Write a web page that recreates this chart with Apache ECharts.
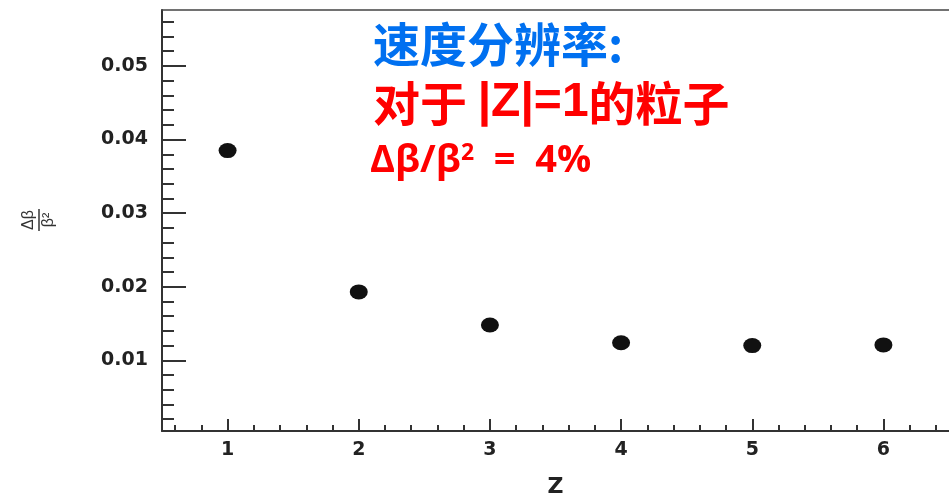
<!DOCTYPE html>
<html>
<head>
<meta charset="utf-8">
<script src="https://cdn.jsdelivr.net/npm/echarts@6/dist/echarts.min.js"></script>
<style>
html,body{margin:0;padding:0;background:#fff;}
#chart{width:949px;height:493px;}
</style>
</head>
<body>
<div id="chart"></div>
<script>
// ---- data ----
var zValues = [1, 2, 3, 4, 5, 6];
var resolution = [0.0385, 0.0193, 0.0148, 0.0124, 0.0120, 0.0121];
var xMajorTicks = [1, 2, 3, 4, 5, 6];
var xMinorTicks = [0.6, 0.8, 1.2, 1.4, 1.6, 1.8, 2.2, 2.4, 2.6, 2.8, 3.2, 3.4, 3.6, 3.8, 4.2, 4.4, 4.6, 4.8, 5.2, 5.4, 5.6, 5.8, 6.2, 6.4];
var yMajorTicks = [0.01, 0.02, 0.03, 0.04, 0.05];
var yMinorTicks = [0.002, 0.004, 0.006, 0.008, 0.012, 0.014, 0.016, 0.018, 0.022, 0.024, 0.026, 0.028, 0.032, 0.034, 0.036, 0.038, 0.042, 0.044, 0.046, 0.048, 0.052, 0.054, 0.056];
var xRange = [0.5, 6.5];
var yRange = [0.0004, 0.0576];
var titleLine1 = '速度分辨率:';
var titleLine2a = '对于 ';
var titleLine2b = '|Z|=1';
var titleLine2c = '的粒子';
var titleLine3a = 'Δβ/β';
var titleLine3sup = '2';
var titleLine3b = '  =  4%';
var xName = 'Z';

var axisColor = '#333';
var labelFont = {fontFamily: 'DejaVu Sans', fontWeight: 'bold', fontSize: 19, color: '#222'};

var chart = echarts.init(document.getElementById('chart'), null, {renderer: 'canvas'});

var points = zValues.map(function (z, i) { return [z, resolution[i]]; });

var option = {
  backgroundColor: '#fff',
  animation: false,
  grid: {left: 162, right: 0, top: 10, bottom: 62, containLabel: false, outerBoundsMode: 'none'},
  xAxis: [
    {
      type: 'value', min: xRange[0], max: xRange[1], position: 'bottom',
      axisLine: {show: true, lineStyle: {color: axisColor, width: 2}},
      axisTick: {show: true, inside: true, length: 12, customValues: xMajorTicks, lineStyle: {color: axisColor, width: 2}},
      axisLabel: Object.assign({show: true, margin: 10, customValues: xMajorTicks}, labelFont),
      splitLine: {show: false},
      name: xName, nameLocation: 'middle', nameGap: 45,
      nameTextStyle: {fontFamily: 'DejaVu Sans', fontWeight: 'bold', fontSize: 22, color: '#222'}
    },
    {
      type: 'value', min: xRange[0], max: xRange[1], position: 'bottom',
      axisLine: {show: false},
      axisTick: {show: true, inside: true, length: 6, customValues: xMinorTicks, lineStyle: {color: axisColor, width: 2}},
      axisLabel: {show: false},
      splitLine: {show: false}
    },
    {
      type: 'value', min: xRange[0], max: xRange[1], position: 'top',
      axisLine: {show: true, lineStyle: {color: '#444', width: 1.5}},
      axisTick: {show: false}, axisLabel: {show: false}, splitLine: {show: false}
    }
  ],
  yAxis: [
    {
      type: 'value', min: yRange[0], max: yRange[1], position: 'left',
      axisLine: {show: true, lineStyle: {color: axisColor, width: 2}},
      axisTick: {show: true, inside: true, length: 24, customValues: yMajorTicks, lineStyle: {color: axisColor, width: 2}},
      axisLabel: Object.assign({show: true, margin: 14, customValues: yMajorTicks,
        formatter: function (v) { return v.toFixed(2); }}, labelFont),
      splitLine: {show: false}
    },
    {
      type: 'value', min: yRange[0], max: yRange[1], position: 'left',
      axisLine: {show: false},
      axisTick: {show: true, inside: true, length: 12, customValues: yMinorTicks, lineStyle: {color: axisColor, width: 2}},
      axisLabel: {show: false},
      splitLine: {show: false}
    }
  ],
  series: [{
    type: 'scatter',
    xAxisIndex: 0, yAxisIndex: 0,
    data: points,
    symbol: 'circle',
    symbolSize: [18, 15],
    itemStyle: {color: '#111', opacity: 1}
  }],
  graphic: [
    {
      type: 'text', left: 373, top: 21,
      style: {text: titleLine1, fill: '#0070F0', font: 'bold 47px "Noto Sans CJK SC"'}
    },
    {
      type: 'text', left: 373, top: 79,
      style: {
        text: '{c|' + titleLine2a + '}{l|' + titleLine2b + '}{c|' + titleLine2c + '}',
        rich: {
          c: {fill: '#FF0000', fontFamily: 'Noto Sans CJK SC', fontWeight: 'bold', fontSize: 47},
          l: {fill: '#FF0000', fontFamily: 'Liberation Sans', fontWeight: 'bold', fontSize: 48}
        }
      }
    },
    {
      type: 'text', left: 370, top: 142,
      style: {
        text: '{m|' + titleLine3a + '}{s|' + titleLine3sup + '}{m|' + titleLine3b + '}',
        rich: {
          m: {fill: '#FF0000', fontFamily: 'Open Sans', fontWeight: 'bold', fontSize: 38, verticalAlign: 'bottom'},
          s: {fill: '#FF0000', fontFamily: 'Open Sans', fontWeight: 'bold', fontSize: 23, verticalAlign: 'top'}
        }
      }
    },
    {
      type: 'group', x: 39, y: 220, rotation: Math.PI / 2,
      children: [
        {type: 'text', x: 0, y: -2, style: {text: 'Δβ', fill: '#333', font: '16px "Liberation Sans"', align: 'center', verticalAlign: 'bottom'}},
        {type: 'line', shape: {x1: -11, y1: 0, x2: 11, y2: 0}, style: {stroke: '#333', lineWidth: 1.5}},
        {type: 'text', x: 0, y: 2, style: {text: 'β²', fill: '#333', font: '16px "Liberation Sans"', align: 'center', verticalAlign: 'top'}}
      ]
    }
  ]
};
chart.setOption(option);
</script>
</body>
</html>
